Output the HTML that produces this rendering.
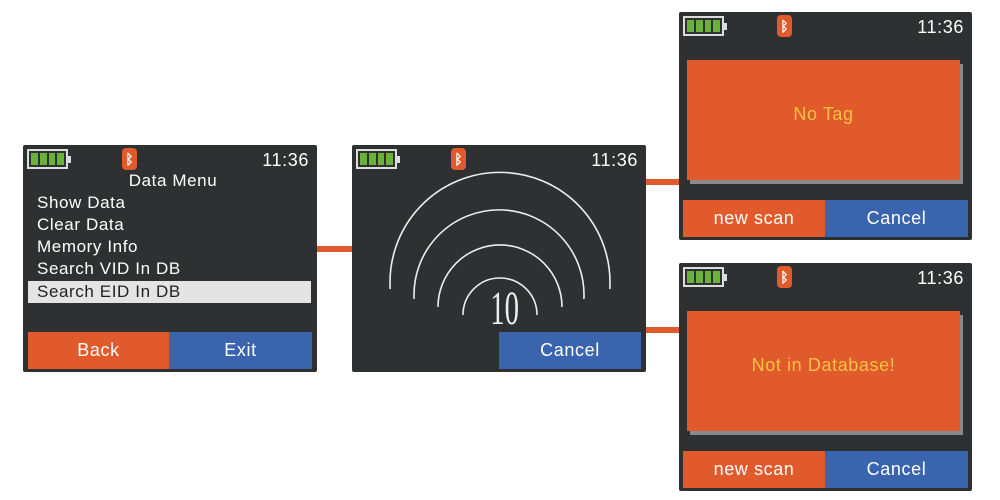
<!DOCTYPE html>
<html><head><meta charset="utf-8"><style>
*{margin:0;padding:0;box-sizing:border-box}
body{width:1000px;height:500px;background:#fff;position:relative;overflow:hidden;font-family:"Liberation Sans",sans-serif;letter-spacing:0.6px}
.a{position:absolute}
.scr{position:absolute;background:#2f3032;border-radius:2px}
.bat{position:absolute;width:41px;height:20px;border:2px solid #ddd;background:#2f3032;padding:2px;display:flex;gap:2px}
.bat i{flex:1;background:#6bb23a}
.bat:after{content:"";position:absolute;right:-5px;top:5px;width:3px;height:7px;background:#ddd}
.bt{position:absolute;width:15px;height:22px;background:#e05a2b;border-radius:4px;color:#fff;font-size:14px;font-weight:bold;text-align:center;line-height:22px;letter-spacing:0}
.time{position:absolute;color:#fff;font-size:18px}
.btn{position:absolute;color:#fff;font-size:18px;text-align:center;line-height:37px;height:37px}
.o{background:#e05a2b}.b{background:#3b64ae}
.mi{position:absolute;left:14px;color:#fff;font-size:17px;line-height:22px}
.con{position:absolute;background:#e05a2b;height:6px}
</style></head><body>
<div class="con" style="left:317px;top:246px;width:35px"></div>
<div class="con" style="left:646px;top:179px;width:33px"></div>
<div class="con" style="left:646px;top:327px;width:33px"></div>

<!-- left screen -->
<div class="scr" style="left:23px;top:145px;width:294px;height:227px">
 <div class="bat" style="left:4px;top:4px"><i></i><i></i><i></i><i></i></div>
 <div class="bt" style="left:99px;top:3px">ᛒ</div>
 <div class="time" style="right:8px;top:5px">11:36</div>
 <div class="a" style="left:0;width:300px;text-align:center;top:26px;color:#fff;font-size:17px">Data Menu</div>
 <div class="mi" style="top:47px">Show Data</div>
 <div class="mi" style="top:69px">Clear Data</div>
 <div class="mi" style="top:91px">Memory Info</div>
 <div class="mi" style="top:113px">Search VID In DB</div>
 <div class="a" style="left:5px;top:136px;width:283px;height:22px;background:#e4e4e4"></div>
 <div class="mi" style="top:136px;color:#222">Search EID In DB</div>
 <div class="btn o" style="left:5px;top:187px;width:141px">Back</div>
 <div class="btn b" style="left:146px;top:187px;width:143px">Exit</div>
</div>

<!-- middle screen -->
<div class="scr" style="left:352px;top:145px;width:294px;height:227px">
 <div class="bat" style="left:4px;top:4px"><i></i><i></i><i></i><i></i></div>
 <div class="bt" style="left:99px;top:3px">ᛒ</div>
 <div class="time" style="right:8px;top:5px">11:36</div>
 <svg class="a" style="left:0;top:0" width="294" height="227" fill="none" stroke="#eee" stroke-width="1.6">
  <path d="M38.2 144 A110 110 0 1 1 257.8 144"/>
  <path d="M62.1 154 A85 85 0 1 1 231.9 154"/>
  <path d="M86 162 A62 62 0 1 1 210 162"/>
  <path d="M111 170 A37 37 0 1 1 185 170"/>
 </svg>
 <div class="a" style="left:131px;top:142px;width:36px;text-align:center;color:#eee;font-family:'Liberation Serif',serif;font-size:48px;line-height:44px;transform:scaleX(0.6);letter-spacing:0">10</div>
 <div class="btn b" style="left:147px;top:187px;width:142px">Cancel</div>
</div>

<!-- right top -->
<div class="scr" style="left:679px;top:12px;width:293px;height:228px">
 <div class="bat" style="left:4px;top:4px"><i></i><i></i><i></i><i></i></div>
 <div class="bt" style="left:98px;top:3px">ᛒ</div>
 <div class="time" style="right:8px;top:5px">11:36</div>
 <div class="a" style="left:11px;top:52px;width:273px;height:120px;background:#8a8a8a"></div>
 <div class="a" style="left:8px;top:48px;width:273px;height:120px;background:#e05a2b;color:#f5c242;font-size:18px;text-align:center;line-height:108px">No Tag</div>
 <div class="btn o" style="left:4px;top:188px;width:142px">new scan</div>
 <div class="btn b" style="left:146px;top:188px;width:143px">Cancel</div>
</div>

<!-- right bottom -->
<div class="scr" style="left:679px;top:263px;width:293px;height:228px">
 <div class="bat" style="left:4px;top:4px"><i></i><i></i><i></i><i></i></div>
 <div class="bt" style="left:98px;top:3px">ᛒ</div>
 <div class="time" style="right:8px;top:5px">11:36</div>
 <div class="a" style="left:11px;top:52px;width:273px;height:120px;background:#8a8a8a"></div>
 <div class="a" style="left:8px;top:48px;width:273px;height:120px;background:#e05a2b;color:#f5c242;font-size:18px;text-align:center;line-height:108px">Not in Database!</div>
 <div class="btn o" style="left:4px;top:188px;width:142px">new scan</div>
 <div class="btn b" style="left:146px;top:188px;width:143px">Cancel</div>
</div>
</body></html>
